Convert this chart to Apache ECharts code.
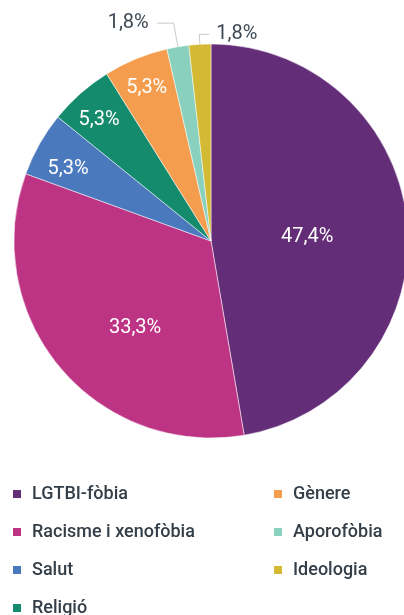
<!DOCTYPE html>
<html>
<head>
<meta charset="utf-8">
<script src="https://cdn.jsdelivr.net/npm/echarts@6/dist/echarts.min.js"></script>
<style>
  html, body { margin: 0; padding: 0; background: #fff; }
  #chart { width: 404px; height: 615px; }
</style>
</head>
<body>
<div id="chart"></div>
<script>
// categories clockwise from 12 o'clock
const categories = ['LGTBI-fòbia', 'Racisme i xenofòbia', 'Salut', 'Religió', 'Gènere', 'Aporofòbia', 'Ideologia'];
const shares = [47.4, 33.3, 5.3, 5.3, 5.3, 1.8, 1.8];
const colors = ['#642D78', '#BE3485', '#4A7ABD', '#158B6E', '#F59D4F', '#89D1BE', '#D4B934'];
// where each slice label goes: centre, outer ring, or outside with a leader line
const labelPlace = ['inner', 'inner', 'ring', 'ring', 'ring', 'outside', 'outside'];
const legendCol1 = categories.slice(0, 4);
const legendCol2 = categories.slice(4);

const fmt = v => v.toFixed(1).replace('.', ',') + '%';

const chart = echarts.init(document.getElementById('chart'), null, { renderer: 'canvas' });

const pieCenter = [211, 241];
const pieRadius = 197;
// leader line lengths for the outside labels, and small label nudges
const leaderLength = [0, 0, 0, 0, 0, 24, 10];
const leaderLength2 = [0, 0, 0, 0, 0, 17, 10];
const labelNudge = [[-5, 5], [2, 22], [-1, 8], [-4, 1], [-2, -2], [0, 0], [0, 0]];

const legendBase = {
  orient: 'vertical',
  top: 484,
  height: 160,
  padding: 0,
  icon: 'rect',
  itemWidth: 10,
  itemHeight: 10,
  itemGap: 18,
  textStyle: {
    fontFamily: 'Roboto',
    fontSize: 18,
    fontWeight: 500,
    lineHeight: 20,
    color: '#333e48',
    padding: [0, 0, 0, 5]
  }
};

const nudge = params => ({ dx: labelNudge[params.dataIndex][0], dy: labelNudge[params.dataIndex][1] });

const option = {
  animation: false,
  color: colors,
  legend: [
    Object.assign({}, legendBase, { left: 11, data: legendCol1 }),
    Object.assign({}, legendBase, { left: 272, data: legendCol2 })
  ],
  series: [
    {
      name: 'main',
      type: 'pie',
      center: pieCenter,
      radius: pieRadius,
      startAngle: 90,
      clockwise: true,
      avoidLabelOverlap: false,
      itemStyle: { borderColor: '#fff', borderWidth: 0.5 },
      labelLine: {
        lineStyle: { color: '#c5cbcf', width: 1 },
        smooth: false
      },
      label: {
        fontFamily: 'Roboto',
        fontSize: 20,
        distanceToLabelLine: 8
      },
      data: categories.map((name, i) => ({
        name: name,
        value: shares[i],
        label: labelPlace[i] === 'inner'
          ? { show: true, position: 'inside', color: '#fff', formatter: p => fmt(p.value) }
          : labelPlace[i] === 'outside'
            ? { show: true, position: 'outside', color: '#3d4954', formatter: p => fmt(p.value) }
            : { show: false },
        labelLine: { show: labelPlace[i] === 'outside', length: leaderLength[i], length2: leaderLength2[i] }
      })),
      labelLayout: function (params) {
        if (labelPlace[params.dataIndex] === 'inner') return nudge(params);
        // the last slice sits just left of 12 o'clock but its label is drawn to the right
        if (params.dataIndex !== categories.length - 1 || !params.labelLinePoints) return {};
        const pts = params.labelLinePoints;
        const bend = pts[1];
        const span = Math.abs(pts[2][0] - bend[0]);
        const end = [bend[0] + span, bend[1]];
        return {
          x: end[0] + 7,
          y: end[1],
          align: 'left',
          verticalAlign: 'middle',
          labelLinePoints: [pts[0], bend, end]
        };
      }
    },
    {
      name: 'ringLabels',
      type: 'pie',
      center: pieCenter,
      radius: [pieRadius - 74, pieRadius],
      startAngle: 90,
      clockwise: true,
      silent: true,
      avoidLabelOverlap: false,
      itemStyle: { color: 'rgba(0,0,0,0)' },
      labelLine: { show: false },
      labelLayout: nudge,
      data: categories.map((name, i) => ({
        name: name,
        value: shares[i],
        itemStyle: { color: 'rgba(0,0,0,0)' },
        label: labelPlace[i] === 'ring'
          ? { show: true, position: 'inside', color: '#fff', fontFamily: 'Roboto', fontSize: 20, formatter: p => fmt(p.value) }
          : { show: false }
      }))
    }
  ]
};

chart.setOption(option);
</script>
</body>
</html>
